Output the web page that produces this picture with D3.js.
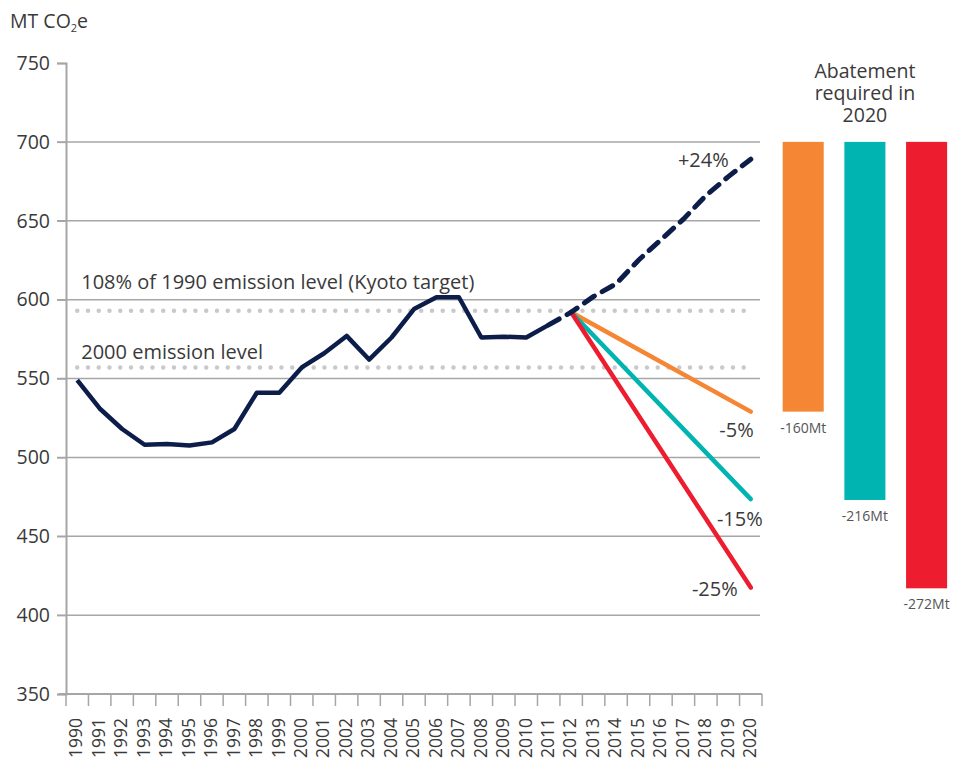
<!DOCTYPE html>
<html lang="en">
<head>
  <meta charset="UTF-8">
  <script src="https://d3js.org/d3.v7.min.js"></script>
  <style>
    body { margin: 0; background: #fff; }
    svg text { font-family: "Open Sans", sans-serif; fill: #3a3a3a; }
  </style>
  <title>Emissions and abatement to 2020</title>
</head>
<body>
  <div id="chart"></div>
  <script>
    // years on the x axis
    var years = d3.range(1990, 2021);

    // actual emissions 1990-2011 (Mt CO2e)
    var actualYears = d3.range(1990, 2012);
    var actual = [549, 531, 518, 508, 508.5, 507.5, 509.5, 518, 541, 541, 557,
                  566, 577, 562, 576, 594, 601.5, 601.5, 576, 576.5, 576, 584];

    // business as usual projection 2011-2020
    var bauYears = d3.range(2011, 2021);
    var bau = [584, 592, 602, 610, 625, 638, 651, 666, 678, 689];

    // reduction targets, straight lines from 2012 to 2020
    var targetNames = ["-5%", "-15%", "-25%"];
    var targetStart = 592;
    var targetEnd = [529, 473.5, 417.5];
    var targetColors = ["#f58634", "#00b5b1", "#ed1c2e"];

    // abatement required in 2020 (Mt)
    var abatement = [160, 216, 272];
    var abatementLabels = ["-160Mt", "-216Mt", "-272Mt"];

    // reference levels
    var kyotoLevel = 593;
    var level2000 = 557;

    var yTicks = [350, 400, 450, 500, 550, 600, 650, 700, 750];

    var width = 965, height = 765;
    var svg = d3.select("#chart").append("svg")
        .attr("width", width)
        .attr("height", height);

    var xScale = d3.scaleBand()
        .domain(years)
        .range([66, 762])
        .padding(0);

    var yScale = d3.scaleLinear()
        .domain([350, 750])
        .range([694, 63]);

    function xc(yr) { return xScale(yr) + xScale.bandwidth() / 2; }

    // gridlines
    svg.append("g").selectAll("line")
        .data(yTicks.filter(function(d) { return d > 350 && d < 750; }))
        .enter().append("line")
        .attr("x1", 57).attr("x2", 760)
        .attr("y1", function(d) { return yScale(d); })
        .attr("y2", function(d) { return yScale(d); })
        .attr("stroke", "#a6a6a6")
        .attr("stroke-width", 1.5);

    // y axis
    var yAxis = svg.append("g")
        .attr("transform", "translate(66,0)")
        .call(d3.axisLeft(yScale).tickValues(yTicks).tickSize(9).tickPadding(7));
    yAxis.select(".domain").attr("stroke", "#a6a6a6").attr("stroke-width", 2);
    yAxis.selectAll(".tick line").attr("stroke", "#a6a6a6").attr("stroke-width", 1.5);
    yAxis.selectAll(".tick text")
        .style("font-family", "Open Sans, sans-serif")
        .style("font-size", "19.5px")
        .style("fill", "#3a3a3a");

    // x axis: labels at band centres, ticks at band edges
    var xAxis = svg.append("g")
        .attr("transform", "translate(0,694)")
        .call(d3.axisBottom(xScale).tickSize(0));
    xAxis.select(".domain").remove();
    xAxis.selectAll(".tick text")
        .attr("transform", "rotate(-90)")
        .attr("x", -24)
        .attr("y", 0)
        .attr("dy", "0.3em")
        .style("text-anchor", "end")
        .style("font-family", "Open Sans, sans-serif")
        .style("font-size", "17.5px")
        .style("fill", "#3a3a3a");

    svg.append("line")
        .attr("x1", 59).attr("x2", 762)
        .attr("y1", 694).attr("y2", 694)
        .attr("stroke", "#a6a6a6").attr("stroke-width", 2);

    var edges = years.map(function(d) { return xScale(d); }).concat([xScale.range()[1]]);
    svg.append("g").selectAll("line")
        .data(edges)
        .enter().append("line")
        .attr("x1", function(d) { return d; })
        .attr("x2", function(d) { return d; })
        .attr("y1", 694).attr("y2", 706)
        .attr("stroke", "#a6a6a6").attr("stroke-width", 1.5);

    // y axis title
    var title = svg.append("text")
        .attr("x", 10).attr("y", 28)
        .style("font-size", "19.5px");
    title.append("tspan").text("MT CO");
    title.append("tspan").attr("dy", 4).style("font-size", "11px").text("2");
    title.append("tspan").attr("dy", -4).text("e");

    // dotted reference lines
    [kyotoLevel, level2000].forEach(function(v) {
        svg.append("line")
            .attr("x1", xc(1990)).attr("x2", xc(2020) - 4)
            .attr("y1", yScale(v)).attr("y2", yScale(v))
            .attr("stroke", "#c9c9cc")
            .attr("stroke-width", 4.5)
            .attr("stroke-linecap", "round")
            .attr("stroke-dasharray", "0 10.75");
    });

    svg.append("text")
        .attr("x", xc(1990) + 4).attr("y", yScale(kyotoLevel) - 22)
        .style("font-size", "20px")
        .text("108% of 1990 emission level (Kyoto target)");
    svg.append("text")
        .attr("x", xc(1990) + 4).attr("y", yScale(level2000) - 8)
        .style("font-size", "20px")
        .text("2000 emission level");

    var line = d3.line()
        .x(function(d) { return xc(d[0]); })
        .y(function(d) { return yScale(d[1]); });

    // target lines
    targetEnd.forEach(function(v, i) {
        svg.append("path")
            .datum([[2012, targetStart], [2020, v]])
            .attr("d", line)
            .attr("fill", "none")
            .attr("stroke", targetColors[i])
            .attr("stroke-width", 4.5)
            .attr("stroke-linecap", "round");
    });

    // actual emissions
    svg.append("path")
        .datum(d3.zip(actualYears, actual))
        .attr("d", line)
        .attr("fill", "none")
        .attr("stroke", "#0c1d4a")
        .attr("stroke-width", 4.5)
        .attr("stroke-linejoin", "round");

    // projection
    svg.append("path")
        .datum(d3.zip(bauYears, bau))
        .attr("d", line)
        .attr("fill", "none")
        .attr("stroke", "#0c1d4a")
        .attr("stroke-width", 5)
        .attr("stroke-dasharray", "12 9")
        .attr("stroke-linecap", "round");

    // end labels
    svg.append("text")
        .attr("x", xc(2020) - 22).attr("y", yScale(bau[bau.length - 1]) + 8)
        .style("font-size", "20px").style("text-anchor", "end")
        .text("+24%");
    var labelOffsets = [[3, 25], [12, 27], [-13, 8]];
    targetEnd.forEach(function(v, i) {
        svg.append("text")
            .attr("x", xc(2020) + labelOffsets[i][0])
            .attr("y", yScale(v) + labelOffsets[i][1])
            .style("font-size", "20px").style("text-anchor", "end")
            .text(targetNames[i]);
    });

    // abatement bars
    var barScale = d3.scaleBand()
        .domain(targetNames)
        .range([772.5, 957.3])
        .paddingInner(0.335)
        .paddingOuter(0.165);

    var bauEnd = bau[bau.length - 1];
    svg.selectAll(".bar")
        .data(abatement)
        .enter().append("rect")
        .attr("class", "bar")
        .attr("x", function(d, i) { return barScale(targetNames[i]); })
        .attr("width", barScale.bandwidth())
        .attr("y", yScale(700))
        .attr("height", function(d) { return yScale(bauEnd - d) - yScale(700); })
        .attr("fill", function(d, i) { return targetColors[i]; });

    svg.selectAll(".barlabel")
        .data(abatement)
        .enter().append("text")
        .attr("class", "barlabel")
        .attr("x", function(d, i) { return barScale(targetNames[i]) + barScale.bandwidth() / 2; })
        .attr("y", function(d) { return yScale(bauEnd - d) + 21; })
        .style("text-anchor", "middle")
        .style("font-size", "14px")
        .style("fill", "#555")
        .text(function(d, i) { return abatementLabels[i]; });

    var cx = barScale(targetNames[1]) + barScale.bandwidth() / 2;
    ["Abatement", "required in", "2020"].forEach(function(t, i) {
        svg.append("text")
            .attr("x", cx).attr("y", 78 + i * 22)
            .style("text-anchor", "middle")
            .style("font-size", "19.5px")
            .text(t);
    });
  </script>
</body>
</html>
